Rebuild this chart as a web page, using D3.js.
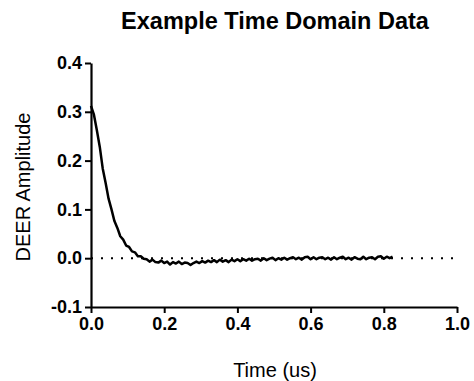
<!DOCTYPE html>
<html>
<head>
<meta charset="utf-8">
<script src="https://cdn.jsdelivr.net/npm/d3@7"></script>
<style>
  body { margin: 0; background: #fff; }
  svg { display: block; }
  text { font-family: "Liberation Sans", Arial, sans-serif; fill: #000; }
</style>
</head>
<body>
<svg id="chart" width="474" height="381"></svg>
<script>
const title = "Example Time Domain Data";
const xLabel = "Time (us)";
const yLabel = "DEER Amplitude";
const xTicks = [0.0, 0.2, 0.4, 0.6, 0.8, 1.0];
const yTicks = [-0.1, 0.0, 0.1, 0.2, 0.3, 0.4];
const xTickLabels = ["0.0", "0.2", "0.4", "0.6", "0.8", "1.0"];
const yTickLabels = ["-0.1", "0.0", "0.1", "0.2", "0.3", "0.4"];

const time = [
  0.000,0.008,0.016,0.024,0.032,0.040,0.048,0.056,0.064,0.072,
  0.080,0.088,0.096,0.104,0.112,0.120,0.128,0.136,0.144,0.152,
  0.160,0.168,0.176,0.184,0.192,0.200,0.208,0.216,0.224,0.232,
  0.240,0.248,0.256,0.264,0.272,0.280,0.288,0.296,0.304,0.312,
  0.320,0.328,0.336,0.344,0.352,0.360,0.368,0.376,0.384,0.392,
  0.400,0.408,0.416,0.424,0.432,0.440,0.448,0.456,0.464,0.472,
  0.480,0.488,0.496,0.504,0.512,0.520,0.528,0.536,0.544,0.552,
  0.560,0.568,0.576,0.584,0.592,0.600,0.608,0.616,0.624,0.632,
  0.640,0.648,0.656,0.664,0.672,0.680,0.688,0.696,0.704,0.712,
  0.720,0.728,0.736,0.744,0.752,0.760,0.768,0.776,0.784,0.792,
  0.800,0.808,0.816,0.824
];
const amplitude = [
  0.312,0.294,0.262,0.228,0.184,0.154,0.122,0.100,0.076,0.062,
  0.045,0.038,0.026,0.023,0.014,0.012,0.004,0.004,-0.001,-0.002,
  -0.007,-0.003,-0.008,-0.009,-0.005,-0.010,-0.007,-0.013,-0.008,-0.011,
  -0.007,-0.012,-0.009,-0.010,-0.014,-0.010,-0.007,-0.010,-0.006,-0.009,
  -0.005,-0.008,-0.004,-0.008,-0.003,-0.007,-0.004,-0.008,-0.003,-0.006,
  -0.002,-0.006,-0.002,-0.005,-0.001,-0.005,-0.002,-0.001,-0.005,0.000,
  -0.004,-0.001,0.001,-0.004,0.000,-0.003,0.001,-0.003,0.000,0.002,
  -0.002,0.001,-0.003,0.002,0.003,-0.002,0.002,-0.002,0.001,0.002,
  -0.002,0.001,-0.003,0.002,-0.002,0.001,0.003,-0.002,0.001,-0.003,
  0.002,-0.001,-0.002,0.003,-0.002,0.001,0.002,-0.002,0.003,0.004,
  -0.001,0.003,0.000,0.003
];

const svg = d3.select("#chart");
const x = d3.scaleLinear().domain([0, 1]).range([91, 457]);
const y = d3.scaleLinear().domain([-0.1, 0.4]).range([307, 63]);

// zero reference dotted line
svg.append("line")
  .attr("x1", x(0)).attr("x2", x(1))
  .attr("y1", y(0)).attr("y2", y(0))
  .attr("stroke", "#000").attr("stroke-width", 2)
  .attr("stroke-dasharray", "2,8");

// data line
const pts = time.map((t, i) => [t, amplitude[i]]);
svg.append("path")
  .datum(pts)
  .attr("fill", "none")
  .attr("stroke", "#000")
  .attr("stroke-width", 2.5)
  .attr("stroke-linejoin", "round")
  .attr("d", d3.line().x(d => x(d[0])).y(d => y(d[1])));

// x axis
const xAxis = svg.append("g")
  .attr("transform", `translate(0,${y(-0.1)})`)
  .call(d3.axisBottom(x).tickValues(xTicks)
    .tickFormat((d, i) => xTickLabels[i]).tickSize(6).tickSizeOuter(0).tickPadding(4));
// y axis
const yAxis = svg.append("g")
  .attr("transform", `translate(${x(0)},0)`)
  .call(d3.axisLeft(y).tickValues(yTicks)
    .tickFormat((d, i) => yTickLabels[i]).tickSize(6).tickSizeOuter(0).tickPadding(3));

[xAxis, yAxis].forEach(g => {
  g.select(".domain").attr("stroke", "#000").attr("stroke-width", 2.2);
  g.selectAll(".tick line").attr("stroke", "#000").attr("stroke-width", 2);
  g.selectAll(".tick text")
    .attr("font-family", "'Liberation Sans', Arial, sans-serif")
    .attr("font-size", 18).attr("font-weight", "bold").attr("fill", "#000");
});

// title
svg.append("text")
  .attr("x", 275).attr("y", 29)
  .attr("text-anchor", "middle")
  .attr("font-size", 23.5).attr("font-weight", "bold")
  .text(title);

// x label
svg.append("text")
  .attr("x", 275).attr("y", 377)
  .attr("text-anchor", "middle")
  .attr("font-size", 20)
  .text(xLabel);

// y label
svg.append("text")
  .attr("transform", "translate(30,187) rotate(-90)")
  .attr("text-anchor", "middle")
  .attr("font-size", 20)
  .text(yLabel);
</script>
</body>
</html>
